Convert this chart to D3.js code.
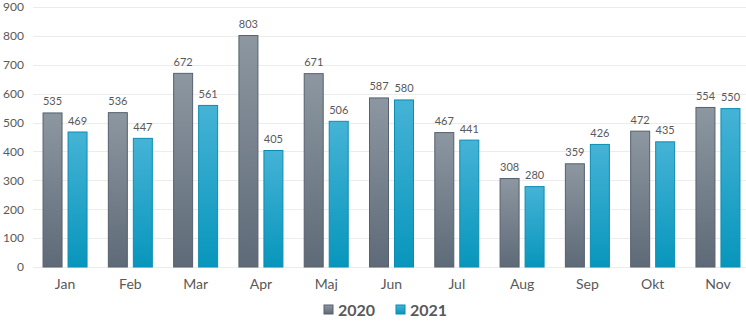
<!DOCTYPE html>
<html><head><meta charset="utf-8">
<script src="https://cdn.jsdelivr.net/npm/d3@7"></script>
<style>body{margin:0;background:#fff}svg{display:block}text{font-family:Lato,"Open Sans",sans-serif}</style>
</head><body><div id="c"></div>
<script>
const months = ["Jan","Feb","Mar","Apr","Maj","Jun","Jul","Aug","Sep","Okt","Nov"];
const values2020 = [535,536,672,803,671,587,467,308,359,472,554];
const values2021 = [469,447,561,405,506,580,441,280,426,435,550];
const seriesNames = ["2020","2021"];
const yTicks = [0,100,200,300,400,500,600,700,800,900];

(function(){
const W=746,H=323;
const svg=d3.select("#c").append("svg").attr("width",W).attr("height",H);
const defs=svg.append("defs");
const g1=defs.append("linearGradient").attr("id","gGray").attr("x1",0).attr("y1",0).attr("x2",0).attr("y2",1);
g1.append("stop").attr("offset","0%").attr("stop-color","#8c97a1");
g1.append("stop").attr("offset","100%").attr("stop-color","#5e6a77");
const g2=defs.append("linearGradient").attr("id","gBlue").attr("x1",0).attr("y1",0).attr("x2",0).attr("y2",1);
g2.append("stop").attr("offset","0%").attr("stop-color","#45b3d6");
g2.append("stop").attr("offset","100%").attr("stop-color","#0896bc");

const pL=32.4, pR=750.6, pT=7, pB=267;
const x=d3.scaleBand().domain(months).range([pL,pR]).paddingInner(0).paddingOuter(0);
const y=d3.scaleLinear().domain([0,900]).range([pB,pT]);
const xs=d3.scaleBand().domain(seriesNames).range([0,45]).paddingInner(0.2);
const off=(x.bandwidth()-45)/2;

svg.append("g").selectAll("line").data(yTicks).join("line")
 .attr("x1",33).attr("x2",W).attr("y1",d=>Math.round(y(d))+0.5).attr("y2",d=>Math.round(y(d))+0.5)
 .attr("stroke","#ececec").attr("stroke-width",1);

const ya=svg.append("g").attr("transform","translate(24,0)").call(d3.axisLeft(y).tickValues(yTicks).tickSize(0).tickPadding(0));
ya.select(".domain").remove();
ya.selectAll("text").attr("font-size",12).attr("fill","#595959").style("font-family","Lato,sans-serif");

const xa=svg.append("g").attr("transform",`translate(0,${pB})`).call(d3.axisBottom(x).tickSize(0).tickPadding(12));
xa.select(".domain").remove();
xa.selectAll("text").attr("font-size",14).attr("fill","#595959").style("font-family","Lato,sans-serif");

const data=months.map((m,i)=>({m,v:[values2020[i],values2021[i]]}));
const fills=["url(#gGray)","url(#gBlue)"], strokes=["#56616d","#0b8db3"];
seriesNames.forEach((s,si)=>{
  const gg=svg.append("g");
  gg.selectAll("rect").data(data).join("rect")
   .attr("x",d=>x(d.m)+off+xs(s)+0.5).attr("width",xs.bandwidth()-1)
   .attr("y",d=>y(d.v[si])+0.5).attr("height",d=>pB-y(d.v[si])-0.5)
   .attr("fill",fills[si]).attr("stroke",strokes[si]).attr("stroke-width",1);
  gg.selectAll("text").data(data).join("text")
   .attr("x",d=>x(d.m)+off+xs(s)+xs.bandwidth()/2).attr("y",d=>y(d.v[si])-7)
   .attr("text-anchor","middle").attr("font-size",11).attr("fill","#595959")
   .text(d=>d.v[si]);
});

const lg=svg.append("g");
const lx=[324,396];
seriesNames.forEach((s,i)=>{
  lg.append("rect").attr("x",lx[i]).attr("y",305).attr("width",9).attr("height",9).attr("fill",fills[i]).attr("stroke",strokes[i]);
  lg.append("text").attr("x",lx[i]+14).attr("y",316).attr("font-size",16).attr("font-weight","bold").attr("fill","#595959").text(s);
});
})();
</script></body></html>
